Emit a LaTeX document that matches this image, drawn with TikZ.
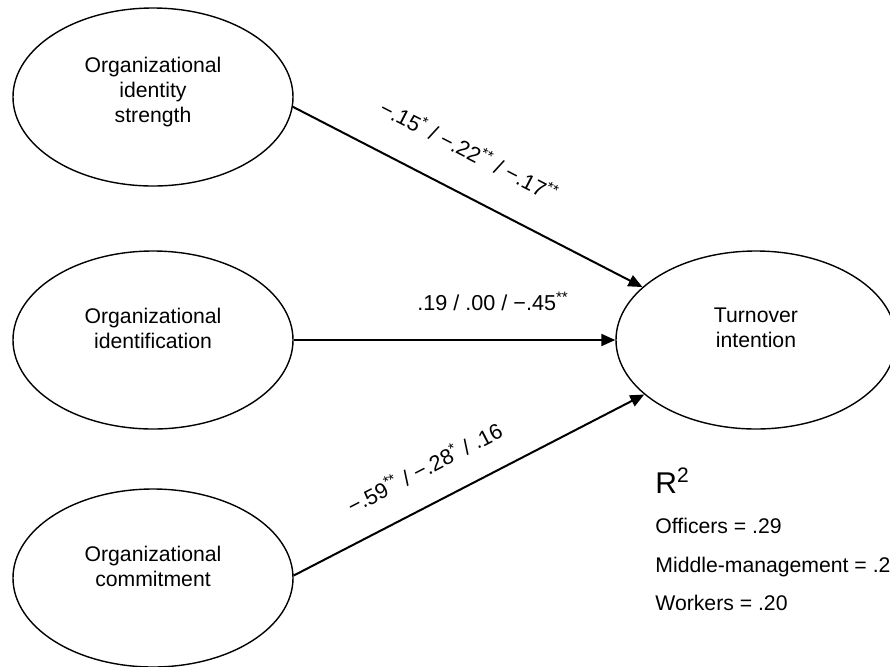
\documentclass[tikz,border=0pt]{standalone}
\usepackage{fontspec}
\setmainfont{Liberation Sans}
\usetikzlibrary{arrows.meta, shapes.geometric}
\tikzset{
    latent/.style={
        ellipse,
        draw=black,
        line width=0.7pt,
        minimum width=140pt,
        minimum height=89pt,
        inner sep=0pt
    },
    nodetext/.style={
        align=center,
        inner sep=0pt,
        font=\fontsize{10.6}{12.5}\selectfont
    },
    pathlabel/.style={
        sloped,
        inner sep=0pt,
        font=\fontsize{10.8}{12.5}\selectfont
    },
    patharrow/.style={-{Triangle[length=7pt, width=6pt]}, line width=1pt},
    rsqline/.style={anchor=base west, inner sep=0pt, font=\fontsize{10.6}{12.5}\selectfont}
}
\newcommand{\sig}[1]{\textsuperscript{#1}}

\begin{document}
\begin{tikzpicture}[x=0.5pt, y=-0.5pt]
    \useasboundingbox (0,0) rectangle (890,666);

    % latent variables
    \node[latent] (ois) at (153,97) {};
    \node[latent] (oid) at (153,340) {};
    \node[latent] (oc) at (153,578) {};
    \node[latent] (ti) at (756,340) {};

    \node[nodetext] (oistext) at (153,92) {Organizational\\identity\\strength};
    \node[nodetext] (oidtext) at (153,328) {Organizational\\identification};
    \node[nodetext] (octext) at (153,566) {Organizational\\commitment};
    \node[nodetext] (titext) at (756,328) {Turnover\\intention};

    % paths
    \draw[patharrow] (ois.-4) -- node[pathlabel, above=16pt, pos=0.45] {−.15\sig{*} / −.22\sig{**} / −.17\sig{**}} (ti.155);
    \draw[patharrow] (oid.east) -- node[pathlabel, above=14pt, pos=0.62] {.19 / .00 / −.45\sig{**}} (ti.west);
    \draw[patharrow] (oc.1) -- node[pathlabel, above=13pt, pos=0.42] {−.59\sig{**} / −.28\sig{*} / .16} (ti.206);

    % explained variance
    \node[rsqline, font=\fontsize{15}{18}\selectfont] (rsq) at (655,493) {R\sig{2}};
    \node[rsqline] (officers) at (655,533) {Officers = .29};
    \node[rsqline] (middle) at (655,572) {Middle-management = .2};
    \node[rsqline] (workers) at (655,610) {Workers = .20};
\end{tikzpicture}
\end{document}
